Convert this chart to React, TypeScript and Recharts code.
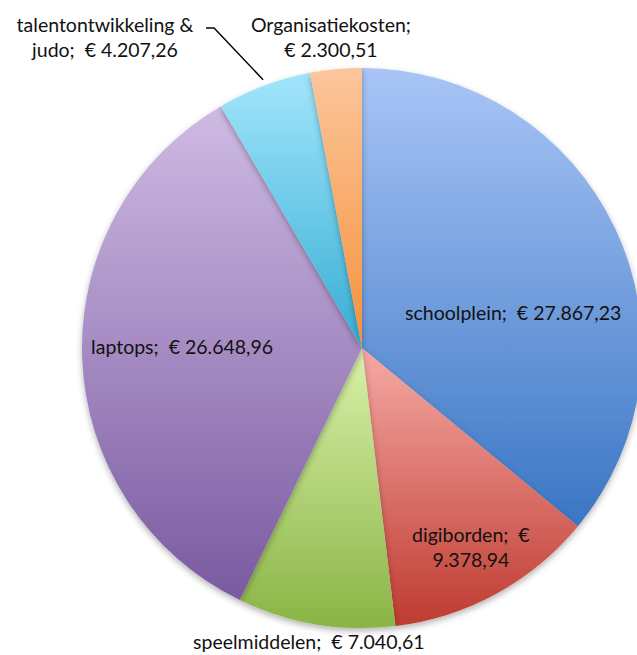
import { PieChart, Pie, Cell } from 'recharts';

// Budget posts, clockwise from 12 o'clock
const categories = [
  'schoolplein',
  'digiborden',
  'speelmiddelen',
  'laptops',
  'talentontwikkeling & judo',
  'Organisatiekosten',
];
const amounts = [27867.23, 9378.94, 7040.61, 26648.96, 4207.26, 2300.51];
const labelLines = [
  ['schoolplein;  € 27.867,23'],
  ['digiborden;  €', '9.378,94'],
  ['speelmiddelen;  € 7.040,61'],
  ['laptops;  € 26.648,96'],
  ['talentontwikkeling &', 'judo;  € 4.207,26'],
  ['Organisatiekosten;', '€ 2.300,51'],
];

// gradient top -> bottom per slice
const gradients = [
  ['#A9C5F6', '#3A76C4'],
  ['#F6A9A5', '#BF3B30'],
  ['#D9F1AA', '#8AB445'],
  ['#CFBBE4', '#7A5AA0'],
  ['#A2E5FC', '#36AED3'],
  ['#FCC69C', '#F5913A'],
];

// where each label sits relative to its slice (radius + nudge)
const placement = [
  { r: 155, dx: 11, dy: 31 },
  { r: 227, dx: 0, dy: 0 },
  { r: 298, dx: -4, dy: 0 },
  { r: 192, dx: 12, dy: -9 },
  { r: 0, dx: 0, dy: 0 },
  { r: 312, dx: -2, dy: 0 },
];

const data = categories.map((name, i) => ({ name, value: amounts[i] }));
const RAD = Math.PI / 180;
const font = 'Lato, "Open Sans", sans-serif';
const fs = 19.5;

const Lines = ({ x, y, lines }: { x: number; y: number; lines: string[] }) => (
  <>
    {lines.map((l, k) => (
      <text
        key={k}
        x={x}
        y={y + (k - (lines.length - 1) / 2) * 25}
        textAnchor="middle"
        dominantBaseline="central"
        fontSize={fs}
        fill="#111"
        fontFamily={font}
        style={{ whiteSpace: 'pre' }}
      >
        {l}
      </text>
    ))}
  </>
);

const renderLabel = (props: any) => {
  const { cx, cy, midAngle, outerRadius, index } = props;
  const lines = labelLines[index];
  if (index === 4) {
    // label with leader line
    const ex = cx + outerRadius * Math.cos(-midAngle * RAD);
    const ey = cy + outerRadius * Math.sin(-midAngle * RAD);
    const ty = 37;
    return (
      <g>
        <polyline
          points={`${ex - 1},${ey - 6} ${ex - 50},${ty - 9} ${ex - 58},${ty - 9}`}
          fill="none"
          stroke="#000"
          strokeWidth={1.4}
        />
        <Lines x={105} y={ty} lines={lines} />
      </g>
    );
  }
  const p = placement[index];
  const x = cx + p.r * Math.cos(-midAngle * RAD) + p.dx;
  const y = cy + p.r * Math.sin(-midAngle * RAD) + p.dy;
  return (
    <g>
      <Lines x={x} y={y} lines={lines} />
    </g>
  );
};

export default function App() {
  return (
    <div style={{ position: 'absolute', left: 0, top: 0, width: 637, height: 655, background: '#fff' }}>
      <PieChart width={637} height={655} margin={{ top: 0, right: 0, bottom: 0, left: 0 }}>
        <defs>
          {gradients.map(([a, b], i) => (
            <linearGradient key={i} id={`g${i}`} x1="0" y1="0" x2="0" y2="1">
              <stop offset="0%" stopColor={a} />
              <stop offset="100%" stopColor={b} />
            </linearGradient>
          ))}
          <filter id="shadow" x="-10%" y="-10%" width="120%" height="125%">
            <feDropShadow dx="0" dy="3" stdDeviation="3" floodColor="#000" floodOpacity="0.3" />
          </filter>
        </defs>
        <Pie
          data={data}
          dataKey="value"
          nameKey="name"
          cx={362}
          cy={348}
          outerRadius={280}
          startAngle={90}
          endAngle={-270}
          stroke="none"
          label={renderLabel}
          labelLine={false}
          isAnimationActive={false}
          style={{ filter: 'url(#shadow)' }}
        >
          {data.map((d, i) => (
            <Cell key={d.name} fill={`url(#g${i})`} />
          ))}
        </Pie>
      </PieChart>
    </div>
  );
}
